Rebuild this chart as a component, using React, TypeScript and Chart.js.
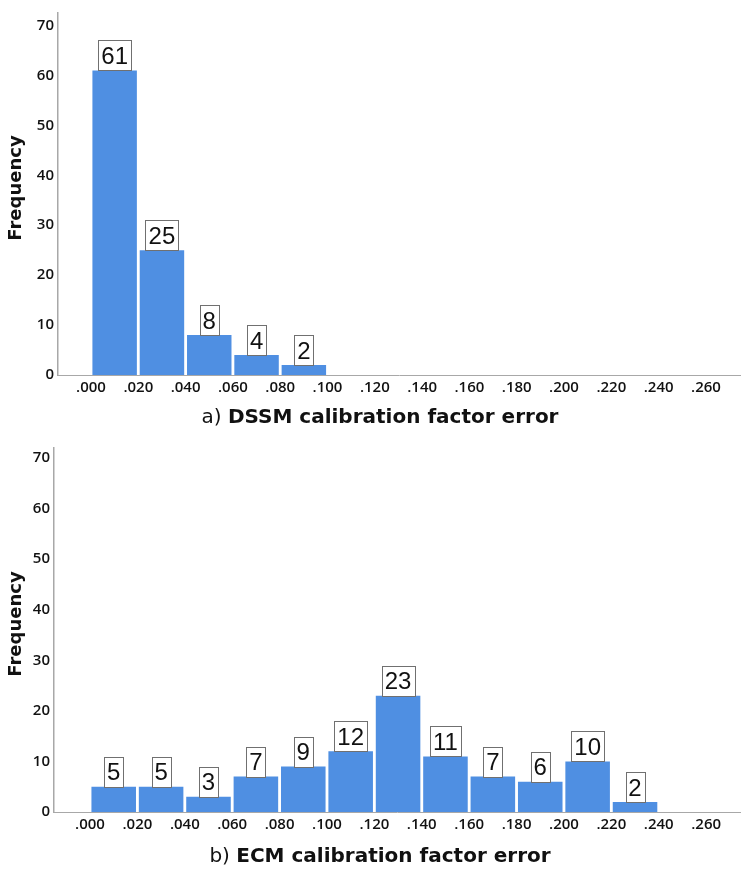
import React, { useEffect, useRef } from 'react';
import { Chart, registerables } from 'chart.js';

Chart.register(...registerables);

// ---- data ----
const xTickValues = [0, 0.02, 0.04, 0.06, 0.08, 0.1, 0.12, 0.14, 0.16, 0.18, 0.2, 0.22, 0.24, 0.26];
const xTickLabels = ['.000', '.020', '.040', '.060', '.080', '.100', '.120', '.140', '.160', '.180', '.200', '.220', '.240', '.260'];
const binWidth = 0.02;

const dssmBinStarts = [0, 0.02, 0.04, 0.06, 0.08];
const dssmCounts = [61, 25, 8, 4, 2];

const ecmBinStarts = [0, 0.02, 0.04, 0.06, 0.08, 0.1, 0.12, 0.14, 0.16, 0.18, 0.2, 0.22];
const ecmCounts = [5, 5, 3, 7, 9, 12, 23, 11, 7, 6, 10, 2];

const yAxisTitle = 'Frequency';

const BAR_COLOR = '#4F8FE2';
const AXIS_COLOR = '#a8a8a8';
const TICK_FONT = { family: '"Open Sans", sans-serif', size: 15, weight: '600' };

type Props = {
  starts: number[];
  counts: number[];
  prefix: string;
  title: string;
  height: number;
  top: number;
  axisLeft: number;
  padTop: number;
  areaBottom: number;
  xMin: number;
  xMax: number;
  yMax: number;
  titleBaseline: number;
};

function Histogram(p: Props) {
  const ref = useRef<HTMLCanvasElement | null>(null);

  useEffect(() => {
    if (!ref.current) return;
    const labelPlugin = {
      id: 'labelsAndTitles',
      afterDatasetsDraw(chart: any) {
        const ctx = chart.ctx as CanvasRenderingContext2D;
        const meta = chart.getDatasetMeta(0);
        ctx.save();
        ctx.font = '24px "Liberation Sans", Arial, sans-serif';
        ctx.textAlign = 'center';
        ctx.textBaseline = 'middle';
        meta.data.forEach((bar: any, i: number) => {
          const txt = String(p.counts[i]);
          const w = Math.round(ctx.measureText(txt).width + 6);
          const h = 30;
          const x0 = Math.round(bar.x - w / 2) + 0.5;
          const y0 = Math.round(bar.y - h) + 0.5;
          ctx.fillStyle = '#ffffff';
          ctx.fillRect(x0, y0, w, h);
          ctx.strokeStyle = '#707070';
          ctx.lineWidth = 1;
          ctx.strokeRect(x0, y0, w, h);
          ctx.fillStyle = '#111111';
          ctx.fillText(txt, bar.x, bar.y - h / 2 + 2);
        });
        ctx.restore();
      },
      afterDraw(chart: any) {
        const ctx = chart.ctx as CanvasRenderingContext2D;
        const area = chart.chartArea;
        ctx.save();
        ctx.fillStyle = '#111111';
        ctx.textBaseline = 'alphabetic';
        const regFont = '20px "DejaVu Sans", sans-serif';
        const boldFont = 'bold 20px "DejaVu Sans", sans-serif';
        ctx.font = regFont;
        const wPrefix = ctx.measureText(p.prefix + ' ').width;
        ctx.font = boldFont;
        const wTitle = ctx.measureText(p.title).width;
        const total = wPrefix + wTitle;
        const cx = 380;
        const x = cx - total / 2;
        ctx.textAlign = 'left';
        ctx.font = regFont;
        ctx.fillText(p.prefix + ' ', x, p.titleBaseline);
        ctx.font = boldFont;
        ctx.fillText(p.title, x + wPrefix, p.titleBaseline);
        // y axis title
        ctx.translate(16, (area.top + area.bottom) / 2 - 6);
        ctx.rotate(-Math.PI / 2);
        ctx.textAlign = 'center';
        ctx.textBaseline = 'middle';
        ctx.font = 'bold 18px "DejaVu Sans", sans-serif';
        ctx.fillText(yAxisTitle, 0, 0);
        ctx.restore();
      },
    };

    const chart = new Chart(ref.current, {
      type: 'bar',
      data: {
        datasets: [
          {
            data: p.starts.map((s, i) => ({ x: s + binWidth / 2, y: p.counts[i] })),
            backgroundColor: BAR_COLOR,
            borderWidth: 0,
            barPercentage: 0.94,
            categoryPercentage: 1,
          },
        ],
      },
      options: {
        responsive: false,
        animation: false,
        devicePixelRatio: 1,
        layout: { padding: { top: p.padTop, right: 9, left: 0, bottom: 0 } },
        plugins: {
          legend: { display: false },
          tooltip: { enabled: false },
        },
        scales: {
          x: {
            type: 'linear',
            offset: false,
            min: p.xMin,
            max: p.xMax,
            grid: { display: false, drawTicks: false, offset: false },
            border: { display: true, color: AXIS_COLOR, width: 1 },
            afterBuildTicks: (scale: any) => {
              scale.ticks = xTickValues.map((v) => ({ value: v }));
            },
            afterFit: (scale: any) => {
              scale.height = p.height - p.areaBottom;
            },
            ticks: {
              autoSkip: false,
              maxRotation: 0,
              padding: 4,
              color: '#111111',
              font: TICK_FONT,
              callback: (_v: any, i: number) => xTickLabels[i],
            },
          },
          y: {
            type: 'linear',
            min: 0,
            max: p.yMax,
            grid: { display: false, drawTicks: false },
            border: { display: true, color: AXIS_COLOR, width: 1.5 },
            afterFit: (scale: any) => {
              scale.width = p.axisLeft;
            },
            ticks: {
              stepSize: 10,
              includeBounds: false,
              padding: 4,
              color: '#111111',
              font: TICK_FONT,
            },
          },
        },
      },
      plugins: [labelPlugin],
    } as any);
    return () => chart.destroy();
  }, []);

  return (
    <canvas
      ref={ref}
      width={749}
      height={p.height}
      style={{ position: 'absolute', left: 0, top: p.top, width: 749, height: p.height, display: 'block' }}
    />
  );
}

export default function App() {
  return (
    <div style={{ position: 'absolute', left: 0, top: 0, width: 749, height: 869, background: '#ffffff' }}>
      <Histogram
        starts={dssmBinStarts}
        counts={dssmCounts}
        prefix="a)"
        title="DSSM calibration factor error"
        height={435}
        top={0}
        axisLeft={58}
        padTop={2}
        areaBottom={375}
        xMin={-0.01395}
        xMax={0.2744}
        yMax={72.5}
        titleBaseline={423}
      />
      <Histogram
        starts={ecmBinStarts}
        counts={ecmCounts}
        prefix="b)"
        title="ECM calibration factor error"
        height={434}
        top={435}
        axisLeft={54}
        padTop={5}
        areaBottom={377}
        xMin={-0.0152}
        xMax={0.2743}
        yMax={72}
        titleBaseline={427}
      />
    </div>
  );
}
